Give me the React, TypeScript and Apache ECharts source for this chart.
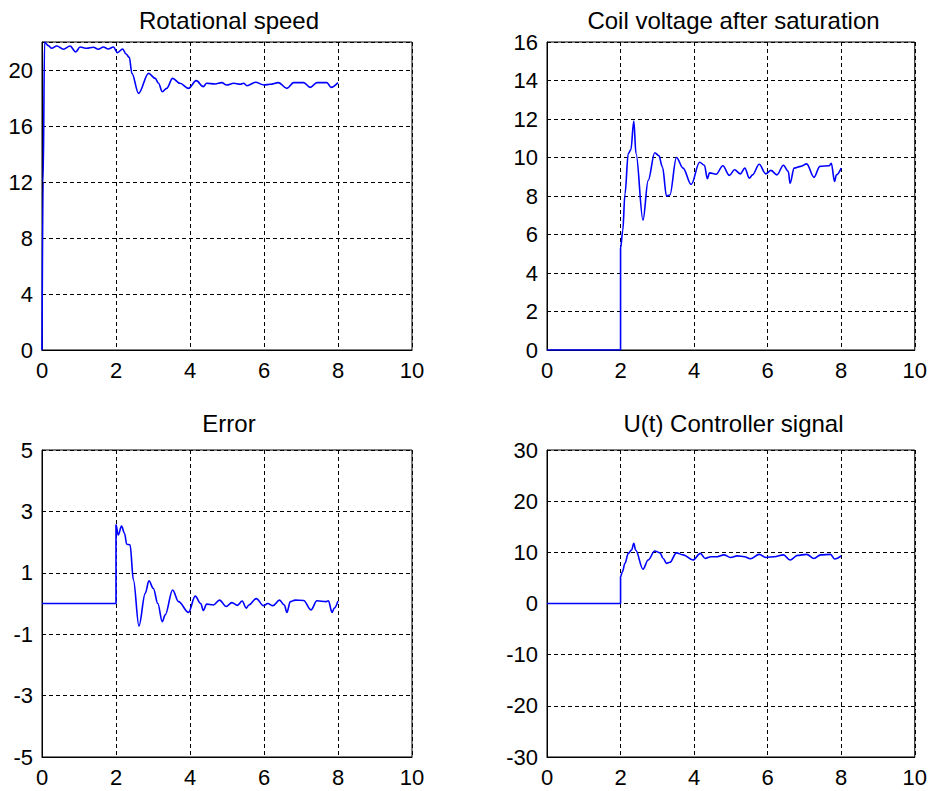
import React, { useEffect, useRef } from "react";
import * as echarts from "echarts";

const titles = ["Rotational speed", "Coil voltage after saturation", "Error", "U(t) Controller signal"];

const xTicks = { min: 0, max: 10, interval: 2 };

const speedT = [0, 0.03, 0.07, 0.17, 0.26, 0.4, 0.58, 0.76, 0.91, 1.03, 1.21, 1.39, 1.52, 1.66, 1.79, 1.93, 2.04, 2.18, 2.27, 2.36, 2.43, 2.61, 2.88, 3.06, 3.15, 3.25, 3.37, 3.53, 3.73, 3.96, 4.17, 4.36, 4.45, 4.68, 4.86, 4.99, 5.18, 5.36, 5.45, 5.54, 5.77, 6.0, 6.17, 6.39, 6.62, 6.8, 7.07, 7.25, 7.43, 7.7, 7.81, 8.0];
const speedV = [0, 12, 22, 21.74, 21.55, 21.71, 21.48, 21.71, 21.29, 21.64, 21.55, 21.62, 21.48, 21.64, 21.5, 21.64, 21.24, 21.5, 21.14, 20.9, 19.76, 18.33, 19.76, 19.4, 19.05, 18.45, 18.69, 19.4, 19.05, 18.69, 19.24, 18.81, 19.05, 19.0, 19.1, 18.93, 19.05, 18.98, 19.05, 18.88, 19.12, 18.93, 18.98, 19.1, 18.69, 19.1, 19.1, 18.76, 19.1, 19.1, 18.76, 19.1];

const coilT = [0, 2.0, 2.0, 2.06, 2.12, 2.21, 2.28, 2.36, 2.42, 2.61, 2.75, 2.93, 3.04, 3.14, 3.25, 3.34, 3.52, 3.7, 3.92, 4.15, 4.28, 4.36, 4.42, 4.6, 4.78, 4.96, 5.1, 5.26, 5.38, 5.5, 5.59, 5.77, 5.95, 6.09, 6.25, 6.43, 6.56, 6.61, 6.72, 6.9, 7.06, 7.26, 7.42, 7.67, 7.73, 7.82, 7.87, 8.0];
const coilV = [0, 0, 5.3, 6.2, 8.1, 10.2, 10.4, 11.9, 10.2, 6.75, 8.8, 10.25, 10.1, 9.5, 8.0, 8.05, 10.0, 9.45, 8.6, 9.75, 9.6, 8.9, 9.2, 9.13, 9.57, 9.07, 9.36, 9.15, 9.45, 8.93, 9.1, 9.65, 9.15, 9.33, 9.1, 9.6, 9.28, 8.66, 9.45, 9.54, 9.67, 8.97, 9.54, 9.57, 9.7, 8.75, 9.1, 9.45];

const errT = [0, 2.0, 2.0, 2.06, 2.15, 2.23, 2.29, 2.38, 2.47, 2.62, 2.79, 2.89, 3.01, 3.13, 3.25, 3.33, 3.53, 3.69, 3.96, 4.14, 4.29, 4.36, 4.45, 4.63, 4.8, 4.98, 5.13, 5.28, 5.41, 5.52, 5.59, 5.79, 5.99, 6.1, 6.24, 6.42, 6.55, 6.62, 6.71, 6.84, 7.07, 7.27, 7.43, 7.68, 7.74, 7.84, 7.9, 8.0];
const errV = [0, 0, 2.56, 2.23, 2.52, 2.29, 1.93, 1.91, 0.77, -0.73, 0.33, 0.74, 0.49, 0.0, -0.59, -0.37, 0.44, 0.06, -0.29, 0.24, 0.0, -0.23, -0.02, -0.05, 0.11, -0.1, 0.03, -0.06, 0.08, -0.15, -0.05, 0.16, -0.07, 0.0, -0.07, 0.11, -0.05, -0.29, 0.06, 0.11, 0.1, -0.21, 0.09, 0.06, 0.09, -0.29, -0.15, 0.08];

const ctrlT = [0, 2.0, 2.0, 2.05, 2.12, 2.21, 2.3, 2.36, 2.41, 2.61, 2.75, 2.93, 3.07, 3.16, 3.25, 3.34, 3.52, 3.7, 3.97, 4.17, 4.3, 4.46, 4.63, 4.81, 4.99, 5.17, 5.37, 5.53, 5.77, 5.95, 6.18, 6.43, 6.61, 6.81, 7.06, 7.26, 7.44, 7.71, 7.82, 8.0];
const ctrlV = [0, 0, 5.24, 6.2, 7.85, 9.8, 10.45, 11.76, 10.45, 6.7, 8.5, 10.26, 9.9, 8.8, 7.85, 8.05, 9.9, 9.5, 8.5, 9.8, 8.8, 9.15, 9.15, 9.5, 9.0, 9.3, 9.15, 8.75, 9.6, 9.0, 9.15, 9.5, 8.5, 9.4, 9.6, 8.8, 9.5, 9.6, 8.7, 9.3];

const yAxes = [
  { min: 0, max: 22, interval: 4 },
  { min: 0, max: 16, interval: 2 },
  { min: -5, max: 5, interval: 2 },
  { min: -30, max: 30, interval: 10 },
];

const zip = (t: number[], v: number[]) => t.map((x, i) => [x, v[i]]);

const FONT = "'Liberation Sans', Arial, sans-serif";

export default function App() {
  const ref = useRef<HTMLDivElement>(null);
  useEffect(() => {
    if (!ref.current) return;
    const chart = echarts.init(ref.current, undefined, { renderer: "svg" });
    const grids = [
      { left: 42, top: 42, width: 370, height: 308 },
      { left: 547, top: 42, width: 369, height: 308 },
      { left: 42, top: 450, width: 370, height: 307 },
      { left: 547, top: 450, width: 369, height: 307 },
    ];
    const dataSets = [zip(speedT, speedV), zip(coilT, coilV), zip(errT, errV), zip(ctrlT, ctrlV)];
    const titleTops = [8, 8, 411, 411];
    const dash = { color: "#000", width: 1, type: [4, 3] as number[] };
    const option: any = {
      animation: false,
      backgroundColor: "#fff",
      title: grids.map((g, i) => ({
        text: titles[i],
        left: g.left + g.width / 2 + 2,
        top: titleTops[i],
        textAlign: "center",
        padding: 0,
        textStyle: { fontFamily: FONT, fontSize: 24, fontWeight: "normal", color: "#000" },
      })),
      grid: grids.map((g) => ({ ...g, show: true, borderColor: "#000", borderWidth: 1, backgroundColor: "transparent" })),
      xAxis: grids.map((_, i) => ({
        type: "value",
        gridIndex: i,
        min: xTicks.min,
        max: xTicks.max,
        interval: xTicks.interval,
        axisLine: { show: true, onZero: false, lineStyle: { color: "#000", width: 1 } },
        axisTick: { show: false },
        axisLabel: { margin: 9, fontFamily: FONT, fontSize: 22, color: "#000" },
        splitLine: { show: true, lineStyle: dash },
      })),
      yAxis: yAxes.map((y, i) => ({
        type: "value",
        gridIndex: i,
        min: y.min,
        max: y.max,
        interval: y.interval,
        axisLine: { show: true, onZero: false, lineStyle: { color: "#000", width: 1 } },
        axisTick: { show: false },
        axisLabel: { margin: 9, fontFamily: FONT, fontSize: 22, color: "#000", showMaxLabel: i !== 0 },
        splitLine: { show: true, lineStyle: dash },
      })),
      series: dataSets.map((d, i) => ({
        type: "line",
        xAxisIndex: i,
        yAxisIndex: i,
        data: d,
        showSymbol: false,
        symbol: "none",
        clip: true,
        smooth: 0.35,
        smoothMonotone: "x",
        lineStyle: { color: "#0000ff", width: 1.6 },
        z: 5,
      })),
    };
    chart.setOption(option);
    return () => chart.dispose();
  }, []);
  return (
    <div
      ref={ref}
      style={{ position: "absolute", left: 0, top: 0, width: 930, height: 791, background: "#fff" }}
    />
  );
}
